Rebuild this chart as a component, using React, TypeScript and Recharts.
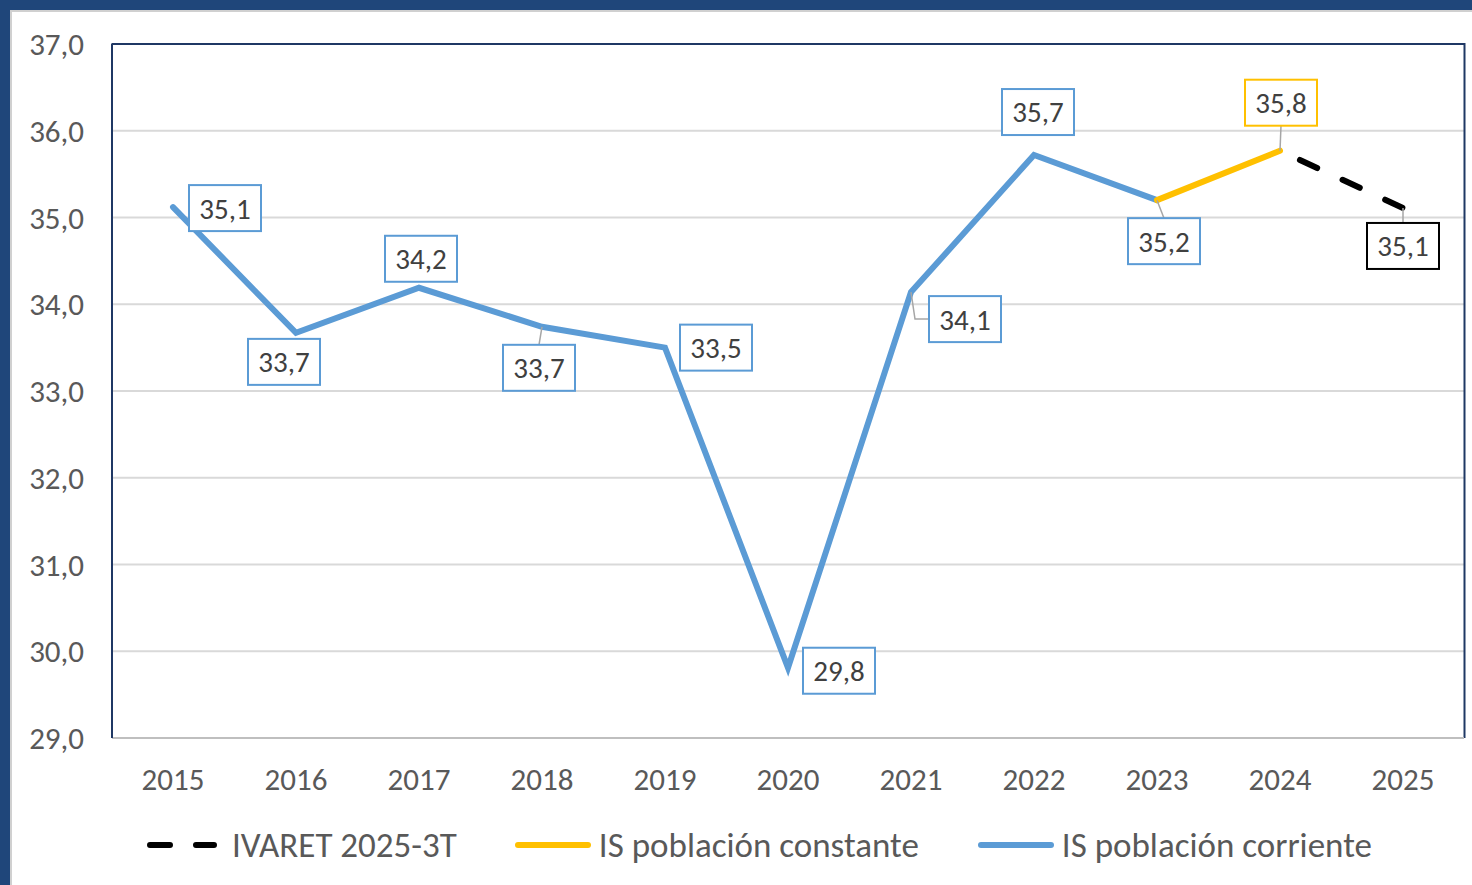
import React from 'react';
import { LineChart, Line, XAxis, YAxis, CartesianGrid, Legend, LabelList, ReferenceArea } from 'recharts';

const FONT = 'Calibri, Carlito, Lato, sans-serif';

const years = ['2015', '2016', '2017', '2018', '2019', '2020', '2021', '2022', '2023', '2024', '2025'];
const corriente = [35.12, 33.67, 34.19, 33.74, 33.5, 29.81, 34.14, 35.72, 35.2, null, null];
const constante = [null, null, null, null, null, null, null, null, 35.2, 35.77, null];
const ivaret = [null, null, null, null, null, null, null, null, null, 35.77, 35.11];
const yTicks = [29, 30, 31, 32, 33, 34, 35, 36, 37];

const data = years.map((year, i) => ({
  year,
  corriente: corriente[i],
  constante: constante[i],
  ivaret: ivaret[i],
}));

type LabelPos = { dx: number; dy: number; leader?: 'line' | 'elbow' };

// where each label box sits relative to its point (Excel-style manual placement)
const corrienteLabels: Record<number, LabelPos> = {
  0: { dx: 52, dy: 1 },
  1: { dx: -12, dy: 29 },
  2: { dx: 2, dy: -29 },
  3: { dx: -3, dy: 41, leader: 'line' },
  4: { dx: 51, dy: 0 },
  5: { dx: 51, dy: 3 },
  6: { dx: 54, dy: 27, leader: 'elbow' },
  7: { dx: 4, dy: -43 },
  8: { dx: 7, dy: 41, leader: 'line' },
};
const constanteLabels: Record<number, LabelPos> = { 9: { dx: 1, dy: -48, leader: 'line' } };
const ivaretLabels: Record<number, LabelPos> = { 10: { dx: 0, dy: 38, leader: 'line' } };

const fmt = (v: number) => v.toFixed(1).replace('.', ',');

const makeLabel = (border: string, pos: Record<number, LabelPos>) => (props: any) => {
  const { x, y, value, index } = props;
  const p = pos[index];
  if (!p || value == null) return null;
  const w = 72;
  const h = 46;
  const cx = x + p.dx;
  const cy = y + p.dy;
  let leader = null;
  if (p.leader === 'line') {
    const ey = p.dy > 0 ? cy - h / 2 : cy + h / 2;
    leader = <line x1={x} y1={y} x2={cx} y2={ey} stroke="#A6A6A6" strokeWidth={1.5} />;
  } else if (p.leader === 'elbow') {
    leader = (
      <polyline
        points={`${x},${y} ${x + 4},${cy} ${cx - w / 2},${cy}`}
        fill="none"
        stroke="#A6A6A6"
        strokeWidth={1.5}
      />
    );
  }
  return (
    <g key={`lbl-${index}`}>
      {leader}
      <rect x={cx - w / 2} y={cy - h / 2} width={w} height={h} fill="#fff" stroke={border} strokeWidth={2} />
      <text x={cx} y={cy} dy="0.36em" textAnchor="middle" fontSize={29} fontFamily={FONT} fill="#404040">
        {fmt(value)}
      </text>
    </g>
  );
};

// top + right edge of the plot frame (left edge is the y axis line).
// the area spans first..last category centre, so widen by half a category step each side
const PlotFrame = (props: any) => {
  const { x, y, width, height } = props;
  const half = width / (years.length - 1) / 2;
  const left = x - half;
  const right = x + width + half;
  return <path d={`M${left},${y} H${right} V${y + height}`} fill="none" stroke="#1F3864" strokeWidth={2} />;
};

const legendItems = [
  { name: 'IVARET 2025-3T', color: '#000000', dashed: true },
  { name: 'IS población constante', color: '#FFC000', dashed: false },
  { name: 'IS población corriente', color: '#5B9BD5', dashed: false },
];

const renderLegend = () => (
  <div style={{ display: 'flex', alignItems: 'center', paddingLeft: 135, paddingTop: 6, fontFamily: FONT }}>
    {legendItems.map((item, i) => (
      <div key={item.name} style={{ display: 'flex', alignItems: 'center', marginLeft: i === 0 ? 0 : i === 1 ? 58 : 59 }}>
        <svg width={76} height={12} style={{ marginRight: item.dashed ? 9 : 8 }}>
          <line
            x1={3}
            y1={6}
            x2={item.dashed ? 67 : 73}
            y2={6}
            stroke={item.color}
            strokeWidth={6}
            strokeLinecap="round"
            strokeDasharray={item.dashed ? '20 26' : undefined}
          />
        </svg>
        <span style={{ fontSize: 35, color: '#595959', whiteSpace: 'nowrap' }}>{item.name}</span>
      </div>
    ))}
  </div>
);

export default function App() {
  return (
    <div style={{ position: 'absolute', left: 0, top: 0, width: 1472, height: 885, background: '#1F467A' }}>
      <div
        style={{
          position: 'absolute',
          left: 10,
          top: 10,
          right: 0,
          bottom: 0,
          background: '#fff',
          borderLeft: '2px solid #D0D0D0',
          borderTop: '2px solid #D0D0D0',
        }}
      />
      <div style={{ position: 'absolute', left: 0, top: 0 }}>
        <LineChart width={1472} height={885} data={data} margin={{ top: 44, right: 8, left: 12, bottom: 7 }}>
          <CartesianGrid vertical={false} stroke="#D9D9D9" strokeWidth={2} />
          <XAxis
            dataKey="year"
            interval={0}
            padding={{ left: 61, right: 61 }}
            tickLine={false}
            tickSize={0}
            tickMargin={30}
            height={80}
            axisLine={{ stroke: '#BFBFBF', strokeWidth: 2 }}
            tick={{ fill: '#595959', fontSize: 31, fontFamily: FONT }}
          />
          <YAxis
            domain={[29, 37]}
            ticks={yTicks}
            width={100}
            tickLine={false}
            tickSize={0}
            tickMargin={28}
            axisLine={{ stroke: '#1F3864', strokeWidth: 2 }}
            tickFormatter={fmt}
            tick={{ fill: '#595959', fontSize: 31, fontFamily: FONT }}
          />
          <ReferenceArea y1={29} y2={37} shape={<PlotFrame />} ifOverflow="visible" />
          <Legend verticalAlign="bottom" height={60} content={renderLegend} />
          <Line
            dataKey="corriente"
            name="IS población corriente"
            stroke="#5B9BD5"
            strokeWidth={6}
            strokeLinecap="round"
            dot={false}
            activeDot={false}
            isAnimationActive={false}
          >
            <LabelList dataKey="corriente" content={makeLabel('#5B9BD5', corrienteLabels)} />
          </Line>
          <Line
            dataKey="constante"
            name="IS población constante"
            stroke="#FFC000"
            strokeWidth={6}
            strokeLinecap="round"
            dot={false}
            activeDot={false}
            isAnimationActive={false}
          >
            <LabelList dataKey="constante" content={makeLabel('#FFC000', constanteLabels)} />
          </Line>
          <Line
            dataKey="ivaret"
            name="IVARET 2025-3T"
            stroke="#000000"
            strokeWidth={6}
            strokeLinecap="round"
            strokeDasharray="19 28"
            strokeDashoffset={25}
            dot={false}
            activeDot={false}
            isAnimationActive={false}
          >
            <LabelList dataKey="ivaret" content={makeLabel('#000000', ivaretLabels)} />
          </Line>
        </LineChart>
      </div>
    </div>
  );
}
